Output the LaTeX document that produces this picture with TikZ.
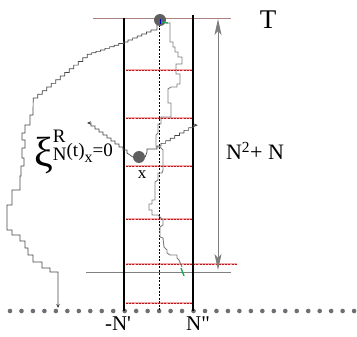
\documentclass[tikz,border=0pt]{standalone}
\usepackage{fontspec}
\setmainfont{Liberation Serif}[Ligatures=TeXOff]
\usetikzlibrary{arrows.meta}
\definecolor{topc}{RGB}{170,130,130}
\definecolor{ballc}{RGB}{95,95,95}
\definecolor{dotc}{RGB}{110,110,115}
\definecolor{walkc}{RGB}{125,125,125}
\definecolor{walkd}{RGB}{70,70,70}
\definecolor{redd}{RGB}{190,20,30}
\definecolor{pinkc}{RGB}{240,170,170}
\definecolor{arrc}{RGB}{125,125,125}
\definecolor{greenc}{RGB}{30,170,90}
\tikzset{
  wall/.style={line width=2.6pt, black},
  redline/.style={pinkc, line width=1.2pt, postaction={draw=redd, line width=0.7pt, dash pattern=on 2pt off 1.2pt}},
  midline/.style={black, line width=0.6pt, dash pattern=on 2pt off 1.5pt},
  topline/.style={topc, line width=0.8pt},
  botline/.style={gray, line width=0.8pt},
  dimline/.style={arrc, line width=0.8pt, {Stealth[length=16pt,width=7pt,inset=4pt]}-{Stealth[length=16pt,width=7pt,inset=4pt]}},
  walkA/.style={walkd, line width=0.7pt, line join=miter},
  walkB/.style={walkc, line width=0.9pt},
  tip/.style={-{Stealth[length=4pt,width=3.5pt]}},
  ball/.style={circle, fill=ballc, minimum size=12pt, inner sep=0pt},
  lbl/.style={inner sep=0pt, font=\fontsize{22}{24}\selectfont},
}
\begin{document}
\begin{tikzpicture}[x=1pt,y=-1pt]
\useasboundingbox (0,0) rectangle (357,337);
% coordinates
\coordinate (L1) at (124,18);  \coordinate (L2) at (124,311);
\coordinate (R1) at (193,15);  \coordinate (R2) at (193,311);
\coordinate (M1) at (159,18);  \coordinate (M2) at (159,311);
\coordinate (T1) at (93,18);   \coordinate (T2) at (231,18);
\coordinate (B1) at (86,272);  \coordinate (B2) at (231,272);
\coordinate (D1) at (218,19);  \coordinate (D2) at (218,270);
% dots
\foreach \k in {0,...,30} \fill[dotc] ({10+11.47*\k},311) circle (2.3pt);
% horizontal lines
\draw[topline] (T1) -- (T2);
\draw[botline] (B1) -- (B2);
\foreach \y in {70,118,166,219,303} \draw[redline] (126,\y) -- (192,\y);
\draw[redline] (126,264) -- (237,264);
% middle dashed
\draw[midline] (M1) -- (M2);
% walls
\draw[wall] (L1) -- (L2);
\draw[wall] (R1) -- (R2);
% dimension arrow
\draw[dimline] (D1) -- (D2);
% balls
\node[ball] (b1) at (160,20) {};
\node[ball] (b2) at (139,157) {};
% long left walk
\draw[walkA,tip] (157,25) -- (157,30) -- (151,30)
  \foreach \k in {1,...,6}{ -- ++(0,2) -- ++(-4.6,0)}
  \foreach \k in {1,...,5}{ -- ++(0,1.6) -- ++(-4.6,0)}
  \foreach \k in {1,...,3}{ -- ++(0,1.4) -- ++(-4.4,0)}
  \foreach \k in {1,...,12}{ -- ++(0,3.65) -- ++(-4.5,0)}
  -- (33,115) -- (30,115) -- (30,125) -- (25,125) -- (25,133) -- (22,133) -- (22,140)
  -- (25,140) -- (25,148) -- (22,148) -- (22,158) -- (24,158) -- (24,166) -- (21,166)
  -- (21,176) -- (20,176) -- (20,190) -- (12,190) -- (12,205) -- (7,205) -- (7,230)
  -- (12,230) -- (12,235) -- (20,235) -- (20,241) -- (25,241) -- (25,248) -- (28,248)
  -- (28,255) -- (33,255) -- (33,262) -- (42,262) -- (42,268) -- (50,268) -- (50,272)
  -- (58,272) -- (58,308);
% central walk
\draw[walkB] (b1.east) ++(0,3) -- (170,23) -- (170,42) -- (173,42) -- (173,47) -- (175,47)
  -- (175,52) -- (178,52) -- (178,57) -- (182,57) -- (182,64) -- (176,64) -- (176,74)
  -- (180,74) -- (180,84) -- (177,84) -- (177,87) -- (171,87) -- (168,89) -- (168,103)
  -- (171,103) -- (171,117) -- (161,117) -- (161,124) -- (158,124) -- (158,133)
  -- (156,135) -- (156,147) -- (160,147) -- (163,150) -- (163,170) -- (162,173)
  -- (158,173) -- (158,180) -- (155,182) -- (155,200) -- (152,200) -- (152,204)
  -- (149,204) -- (149,210) -- (152,210) -- (152,215) -- (158,215) -- (161,218)
  -- (163,220) -- (163,225) -- (160,227) -- (160,237) -- (163,238) -- (164,247)
  -- (167,250) -- (167,253) -- (170,255) -- (177,255) -- (177,258) -- (179,260)
  -- (182,267);
% walks from x
\draw[walkA,tip] (b2.west) -- (127,153) -- (127,150) -- (123,150)
  \foreach \k in {1,...,9}{ -- ++(0,-3) -- ++(-4,0)};
\draw[walkA,tip] (b2.east) -- (147,152) -- (147,149) -- (157,149) -- (157,146) -- (161,146)
  \foreach \k in {1,...,8}{ -- ++(0,-2.6) -- ++(4.6,0)};
% green and blue marks
\draw[greenc, line width=1.4pt] (161,22) -- (168,23);
\draw[blue!70!black, line width=0.8pt] (160,19) -- (160,24);
\draw[greenc, line width=1.4pt] (181,268) -- (184,276);
% labels
\node[inner sep=0pt, font=\fontsize{27}{28}\selectfont] (lT) at (268,20) {T};
\node[lbl] (ldim) at (255,151) {N\textsuperscript{2}+ N};
\node[inner sep=0pt, font=\fontsize{17}{18}\selectfont] (lx) at (142,175) {x};
\node[inner sep=0pt, font=\fontsize{21}{22}\selectfont] (lNl) at (118,324) {-N'};
\node[inner sep=0pt, font=\fontsize{21}{22}\selectfont] (lNr) at (198,324) {N"};
\node[inner sep=0pt, anchor=base west] (lxi) at (34,157) {%
  \raisebox{-10pt}{\fontsize{42}{42}\selectfont ξ}%
  \rlap{\fontsize{19}{19}\selectfont\raisebox{14pt}{R}}%
  \fontsize{19}{19}\selectfont\raisebox{-4pt}{N}(t)%
  \raisebox{-6pt}{\fontsize{16}{16}\selectfont x}=0};
\end{tikzpicture}
\end{document}
